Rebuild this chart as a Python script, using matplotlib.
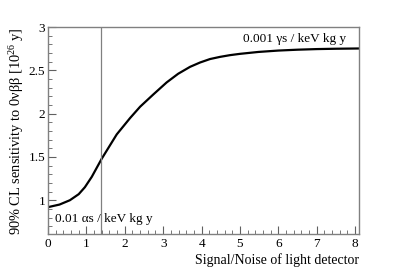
import numpy as np
import matplotlib
matplotlib.use("Agg")
import matplotlib.pyplot as plt
from matplotlib.ticker import MultipleLocator

plt.rcParams['font.family'] = ['Liberation Serif', 'DejaVu Serif']
plt.rcParams['mathtext.fontset'] = 'custom'
plt.rcParams['mathtext.rm'] = 'Liberation Serif'

# sensitivity curve
snr = [0, 0.3, 0.57, 0.8, 0.96, 1.14, 1.4, 1.79, 2.14, 2.40, 2.74, 3.09,
       3.39, 3.7, 3.96, 4.22, 4.48, 4.74, 5.0, 5.48, 6.0, 6.5, 7.0, 7.5, 8.1]
sens = [0.92, 0.95, 1.0, 1.07, 1.15, 1.27, 1.48, 1.76, 1.95, 2.08, 2.22, 2.36,
        2.46, 2.54, 2.59, 2.63, 2.655, 2.675, 2.69, 2.712, 2.728, 2.738, 2.745,
        2.749, 2.752]
snr_cut = 1.39

fig = plt.figure(figsize=(3.99, 2.70), dpi=100)
ax = fig.add_axes([0.1203, 0.1333, 0.7794, 0.7667])
ax.plot(snr, sens, color='black', lw=1.6)
ax.axvline(snr_cut, color='#808080', lw=0.9)

ax.set_xlim(0, 8.1)
ax.set_ylim(0.61, 3.0)
ax.xaxis.set_major_locator(MultipleLocator(1))
ax.xaxis.set_minor_locator(MultipleLocator(0.2))
ax.yaxis.set_minor_locator(MultipleLocator(0.1))
ax.set_yticks([1, 1.5, 2, 2.5, 3])
ax.set_yticklabels(['1', '1.5', '2', '2.5', '3'])
ax.tick_params(which='both', direction='in', top=False, right=False,
               labelsize=9.5, color='#606060', pad=2)
ax.tick_params(axis='x', pad=3)
ax.tick_params(which='major', length=6)
ax.tick_params(which='minor', length=3)
for s in ax.spines.values():
    s.set_color('#808080')
    s.set_linewidth(1.0)

ax.text(0.96, 0.942, '0.001 \u03b3s / keV kg y', transform=ax.transAxes,
        ha='right', va='center', fontsize=9.5)
ax.text(0.0225, 0.072, '0.01 \u03b1s / keV kg y', transform=ax.transAxes,
        ha='left', va='center', fontsize=9.5)

ax.set_xlabel('Signal/Noise of light detector', fontsize=10, loc='right', labelpad=2)
ax.set_ylabel('90% CL sensitivity to 0\u03bd\u03b2\u03b2 [10$^{\\mathregular{26}}$ y]',
              fontsize=10.4, loc='top', labelpad=2)

fig.savefig('out.png', dpi=100)
